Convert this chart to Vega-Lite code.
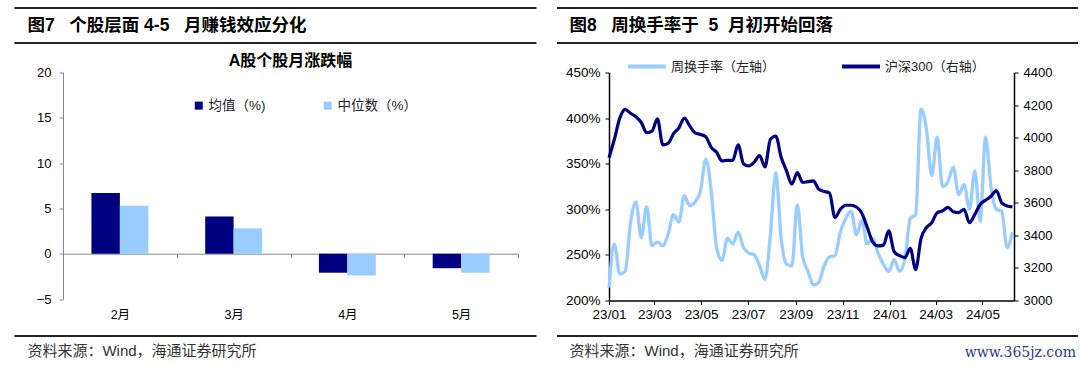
{
  "$schema": "https://vega.github.io/schema/vega-lite/v6.json",
  "background": "white",
  "padding": {"left": 13, "right": 0, "top": 7, "bottom": 0},
  "config": {
    "font": "Liberation Sans, Noto Sans CJK SC, sans-serif",
    "view": {"stroke": null},
    "axis": {"labelColor": "#000", "grid": false, "labelFont": "Liberation Sans, Noto Sans CJK SC, sans-serif"},
    "legend": {"labelColor": "#222", "labelFont": "Liberation Sans, Noto Sans CJK SC, sans-serif"}
  },
  "spacing": 1.5,
  "resolve": {"scale": {"color": "independent"}, "legend": {"color": "independent"}},
  "vconcat": [
    {
      "spacing": 18,
      "hconcat": [
        {
          "width": 473.4, "height": 35,
          "data": {"values": [{"t": "图7\u00a0\u00a0\u00a0个股层面 4-5\u00a0\u00a0\u00a0月赚钱效应分化", "p": -0.0752}]},
          "layer": [
            {"mark": {"type": "rule", "color": "#222", "strokeWidth": 2},
             "encoding": {"x": {"datum": -0.1027, "type": "quantitative", "scale": {"domain": [0, 1], "nice": false}, "axis": null}, "x2": {"datum": 1}, "y": {"datum": 1, "type": "quantitative", "scale": {"domain": [0, 1], "nice": false}, "axis": null}}},
            {"mark": {"type": "rule", "color": "#222", "strokeWidth": 2},
             "encoding": {"x": {"datum": -0.1027, "type": "quantitative", "axis": null}, "x2": {"datum": 1}, "y": {"datum": 0, "type": "quantitative", "axis": null}}},
            {"mark": {"type": "text", "align": "left", "baseline": "middle", "fontSize": 17.5, "fontWeight": "bold", "color": "#000"},
             "encoding": {"text": {"field": "t"}, "x": {"field": "p", "type": "quantitative", "axis": null}, "y": {"datum": 0.5, "type": "quantitative", "axis": null}}}
          ]
        },
        {
          "width": 521, "height": 35,
          "data": {"values": [{"t": "图8\u00a0\u00a0\u00a0周换手率于\u00a0\u00a05\u00a0\u00a0月初开始回落", "p": 0.024}]},
          "layer": [
            {"mark": {"type": "rule", "color": "#222", "strokeWidth": 2},
             "encoding": {"x": {"datum": 0, "type": "quantitative", "scale": {"domain": [0, 1], "nice": false}, "axis": null}, "x2": {"datum": 1}, "y": {"datum": 1, "type": "quantitative", "scale": {"domain": [0, 1], "nice": false}, "axis": null}}},
            {"mark": {"type": "rule", "color": "#222", "strokeWidth": 2},
             "encoding": {"x": {"datum": 0, "type": "quantitative", "axis": null}, "x2": {"datum": 1}, "y": {"datum": 0, "type": "quantitative", "axis": null}}},
            {"mark": {"type": "text", "align": "left", "baseline": "middle", "fontSize": 17.5, "fontWeight": "bold", "color": "#000"},
             "encoding": {"text": {"field": "t"}, "x": {"field": "p", "type": "quantitative", "axis": null}, "y": {"datum": 0.5, "type": "quantitative", "axis": null}}}
          ]
        }
      ]
    },
    {
      "spacing": 37,
      "resolve": {"scale": {"color": "independent"}, "legend": {"color": "independent"}},
      "hconcat": [
        {
          "width": 455, "height": 226.5,
          "title": {"text": "A股个股月涨跌幅", "fontSize": 16, "fontWeight": "bold", "offset": -2, "anchor": "middle", "color": "#000"},
          "data": {"values": [
            {"month": "2月", "series": "均值（%)", "value": 6.7},
            {"month": "2月", "series": "中位数（%）", "value": 5.3},
            {"month": "3月", "series": "均值（%)", "value": 4.1},
            {"month": "3月", "series": "中位数（%）", "value": 2.8},
            {"month": "4月", "series": "均值（%)", "value": -2.1},
            {"month": "4月", "series": "中位数（%）", "value": -2.4},
            {"month": "5月", "series": "均值（%)", "value": -1.6},
            {"month": "5月", "series": "中位数（%）", "value": -2.1}
          ]},
          "mark": {"type": "bar"},
          "encoding": {
            "x": {"field": "month", "type": "nominal", "sort": ["2月", "3月", "4月", "5月"],
                  "scale": {"paddingInner": 0, "paddingOuter": 0},
                  "axis": {"orient": "bottom", "offset": -45.3, "tickBand": "extent", "labelAngle": 0, "domainColor": "#888", "tickColor": "#888", "tickSize": 4, "labelPadding": 51, "labelFontSize": 12.5, "title": null, "minExtent": 79}},
            "xOffset": {"field": "series", "type": "nominal", "sort": ["均值（%)", "中位数（%）"], "scale": {"paddingInner": 0, "paddingOuter": 1.17}},
            "y": {"field": "value", "type": "quantitative", "stack": null,
                  "scale": {"domain": [-5, 20], "nice": false, "zero": false},
                  "axis": {"values": [-5, 0, 5, 10, 15, 20], "title": null, "domainColor": "#888", "tickColor": "#888", "tickSize": 4, "labelPadding": 8, "labelFontSize": 13, "minExtent": 48.6, "maxExtent": 48.6}},
            "color": {"field": "series", "type": "nominal",
                      "scale": {"domain": ["均值（%)", "中位数（%）"], "range": ["#000080", "#99CCFF"]},
                      "legend": {"title": null, "orient": "none", "legendX": 129, "legendY": 26, "direction": "horizontal", "symbolType": "square", "symbolSize": 64, "symbolStrokeWidth": 0, "labelFontSize": 13.5, "columnPadding": 55, "labelOffset": 3}}
          }
        },
        {
          "width": 405, "height": 228,
          "data": {"values": [
            {"date": "2023-01-06", "turnover": 214, "hs300": 3877},
            {"date": "2023-01-13", "turnover": 262, "hs300": 3990},
            {"date": "2023-01-20", "turnover": 229, "hs300": 4120},
            {"date": "2023-01-27", "turnover": 232, "hs300": 4174},
            {"date": "2023-02-03", "turnover": 285, "hs300": 4150},
            {"date": "2023-02-10", "turnover": 308, "hs300": 4128},
            {"date": "2023-02-17", "turnover": 269, "hs300": 4093},
            {"date": "2023-02-24", "turnover": 303, "hs300": 4030},
            {"date": "2023-03-03", "turnover": 260, "hs300": 4040},
            {"date": "2023-03-10", "turnover": 264, "hs300": 4115},
            {"date": "2023-03-17", "turnover": 260, "hs300": 3956},
            {"date": "2023-03-24", "turnover": 273, "hs300": 3965},
            {"date": "2023-03-31", "turnover": 294, "hs300": 4025},
            {"date": "2023-04-07", "turnover": 286, "hs300": 4060},
            {"date": "2023-04-14", "turnover": 315, "hs300": 4120},
            {"date": "2023-04-21", "turnover": 304, "hs300": 4072},
            {"date": "2023-04-28", "turnover": 308, "hs300": 4030},
            {"date": "2023-05-05", "turnover": 320, "hs300": 4020},
            {"date": "2023-05-12", "turnover": 355, "hs300": 4005},
            {"date": "2023-05-19", "turnover": 320, "hs300": 3940},
            {"date": "2023-05-26", "turnover": 258, "hs300": 3910},
            {"date": "2023-06-02", "turnover": 244, "hs300": 3857},
            {"date": "2023-06-09", "turnover": 268, "hs300": 3860},
            {"date": "2023-06-16", "turnover": 262, "hs300": 3860},
            {"date": "2023-06-23", "turnover": 275, "hs300": 3955},
            {"date": "2023-06-30", "turnover": 258, "hs300": 3840},
            {"date": "2023-07-07", "turnover": 252, "hs300": 3826},
            {"date": "2023-07-14", "turnover": 250, "hs300": 3850},
            {"date": "2023-07-21", "turnover": 238, "hs300": 3890},
            {"date": "2023-07-28", "turnover": 223, "hs300": 3820},
            {"date": "2023-08-04", "turnover": 272, "hs300": 3990},
            {"date": "2023-08-11", "turnover": 340, "hs300": 4010},
            {"date": "2023-08-18", "turnover": 268, "hs300": 3880},
            {"date": "2023-08-25", "turnover": 240, "hs300": 3796},
            {"date": "2023-09-01", "turnover": 238, "hs300": 3715},
            {"date": "2023-09-08", "turnover": 305, "hs300": 3785},
            {"date": "2023-09-15", "turnover": 248, "hs300": 3725},
            {"date": "2023-09-22", "turnover": 232, "hs300": 3730},
            {"date": "2023-09-29", "turnover": 217, "hs300": 3734},
            {"date": "2023-10-06", "turnover": 220, "hs300": 3683},
            {"date": "2023-10-13", "turnover": 238, "hs300": 3670},
            {"date": "2023-10-20", "turnover": 248, "hs300": 3660},
            {"date": "2023-10-27", "turnover": 249, "hs300": 3509},
            {"date": "2023-11-03", "turnover": 275, "hs300": 3560},
            {"date": "2023-11-10", "turnover": 290, "hs300": 3585},
            {"date": "2023-11-17", "turnover": 298, "hs300": 3585},
            {"date": "2023-11-24", "turnover": 272, "hs300": 3574},
            {"date": "2023-12-01", "turnover": 288, "hs300": 3535},
            {"date": "2023-12-08", "turnover": 262, "hs300": 3450},
            {"date": "2023-12-15", "turnover": 268, "hs300": 3360},
            {"date": "2023-12-22", "turnover": 252, "hs300": 3335},
            {"date": "2023-12-29", "turnover": 240, "hs300": 3340},
            {"date": "2024-01-05", "turnover": 232, "hs300": 3427},
            {"date": "2024-01-12", "turnover": 245, "hs300": 3300},
            {"date": "2024-01-19", "turnover": 232, "hs300": 3275},
            {"date": "2024-01-26", "turnover": 245, "hs300": 3263},
            {"date": "2024-02-02", "turnover": 290, "hs300": 3320},
            {"date": "2024-02-09", "turnover": 294, "hs300": 3190},
            {"date": "2024-02-16", "turnover": 410, "hs300": 3380},
            {"date": "2024-02-23", "turnover": 388, "hs300": 3447},
            {"date": "2024-03-01", "turnover": 337, "hs300": 3478},
            {"date": "2024-03-08", "turnover": 379, "hs300": 3539},
            {"date": "2024-03-15", "turnover": 325, "hs300": 3550},
            {"date": "2024-03-22", "turnover": 330, "hs300": 3572},
            {"date": "2024-03-29", "turnover": 346, "hs300": 3545},
            {"date": "2024-04-05", "turnover": 316, "hs300": 3540},
            {"date": "2024-04-12", "turnover": 327, "hs300": 3560},
            {"date": "2024-04-19", "turnover": 300, "hs300": 3478},
            {"date": "2024-04-26", "turnover": 342, "hs300": 3529},
            {"date": "2024-05-03", "turnover": 287, "hs300": 3590},
            {"date": "2024-05-10", "turnover": 379, "hs300": 3615},
            {"date": "2024-05-17", "turnover": 325, "hs300": 3640},
            {"date": "2024-05-24", "turnover": 300, "hs300": 3675},
            {"date": "2024-05-31", "turnover": 298, "hs300": 3600},
            {"date": "2024-06-07", "turnover": 258, "hs300": 3580},
            {"date": "2024-06-14", "turnover": 275, "hs300": 3575}
          ]},
          "encoding": {
            "x": {"field": "date", "type": "temporal",
                  "scale": {"domain": [{"year": 2023, "month": 1, "date": 6}, {"year": 2024, "month": 6, "date": 16}]},
                  "axis": {"values": [
                    {"year": 2023, "month": 1, "date": 6}, {"year": 2023, "month": 3, "date": 6}, {"year": 2023, "month": 5, "date": 6},
                    {"year": 2023, "month": 7, "date": 6}, {"year": 2023, "month": 9, "date": 6}, {"year": 2023, "month": 11, "date": 6},
                    {"year": 2024, "month": 1, "date": 6}, {"year": 2024, "month": 3, "date": 6}, {"year": 2024, "month": 5, "date": 6}],
                    "title": null, "format": "%y/%m", "labelFontSize": 13.5, "tickSize": 4, "domainColor": "#000", "tickColor": "#000", "domainWidth": 1.5, "labelPadding": 3, "labelAngle": 0, "labelOverlap": false, "labelFlush": false}}
          },
          "layer": [
            {
              "mark": {"type": "line", "interpolate": "monotone", "strokeWidth": 3.3},
              "encoding": {
                "y": {"field": "turnover", "type": "quantitative", "scale": {"domain": [200, 450], "nice": false, "zero": false},
                      "axis": {"title": null, "values": [200, 250, 300, 350, 400, 450], "labelExpr": "datum.value + '%'", "labelFontSize": 13.5, "tickSize": 4, "domainColor": "#000", "tickColor": "#000", "domainWidth": 1.5, "labelPadding": 5, "minExtent": 53, "maxExtent": 53}},
                "color": {"datum": "周换手率（左轴）", "type": "nominal",
                          "scale": {"domain": ["周换手率（左轴）", "沪深300（右轴）"], "range": ["#99CCFF", "#000080"]},
                          "legend": {"title": null, "orient": "none", "legendX": 17, "legendY": -27, "direction": "horizontal", "symbolType": "stroke", "symbolSize": 1444, "symbolStrokeWidth": 4, "labelFontSize": 13, "columnPadding": 58, "labelOffset": 3}}
              }
            },
            {
              "mark": {"type": "line", "interpolate": "monotone", "strokeWidth": 3.2},
              "encoding": {
                "y": {"field": "hs300", "type": "quantitative", "scale": {"domain": [3000, 4400], "nice": false, "zero": false},
                      "axis": {"title": null, "orient": "right", "values": [3000, 3200, 3400, 3600, 3800, 4000, 4200, 4400], "format": "d", "labelFontSize": 13, "tickSize": 4, "domainColor": "#000", "tickColor": "#000", "domainWidth": 1.5, "labelPadding": 5}},
                "color": {"datum": "沪深300（右轴）", "type": "nominal"}
              }
            }
          ],
          "resolve": {"scale": {"y": "independent"}}
        }
      ]
    },
    {
      "spacing": 18,
      "hconcat": [
        {
          "width": 473.4, "height": 30,
          "data": {"values": [{"t": "资料来源：Wind，海通证券研究所", "p": -0.0752}]},
          "layer": [
            {"mark": {"type": "rule", "color": "#222", "strokeWidth": 2},
             "encoding": {"x": {"datum": -0.1027, "type": "quantitative", "scale": {"domain": [0, 1], "nice": false}, "axis": null}, "x2": {"datum": 1}, "y": {"datum": 1, "type": "quantitative", "scale": {"domain": [0, 1], "nice": false}, "axis": null}}},
            {"mark": {"type": "text", "align": "left", "baseline": "middle", "fontSize": 15, "color": "#333"},
             "encoding": {"text": {"field": "t"}, "x": {"field": "p", "type": "quantitative", "axis": null}, "y": {"datum": 0.5, "type": "quantitative", "axis": null}}}
          ]
        },
        {
          "width": 521, "height": 30,
          "data": {"values": [{"t": "资料来源：Wind，海通证券研究所", "p": 0.024, "a": "src"}, {"t": "www.365jz.com", "p": 0.996, "a": "wm"}]},
          "layer": [
            {"mark": {"type": "rule", "color": "#222", "strokeWidth": 2},
             "encoding": {"x": {"datum": 0, "type": "quantitative", "scale": {"domain": [0, 1], "nice": false}, "axis": null}, "x2": {"datum": 1}, "y": {"datum": 1, "type": "quantitative", "scale": {"domain": [0, 1], "nice": false}, "axis": null}}},
            {"transform": [{"filter": "datum.a == 'src'"}],
             "mark": {"type": "text", "align": "left", "baseline": "middle", "fontSize": 15, "color": "#333"},
             "encoding": {"text": {"field": "t"}, "x": {"field": "p", "type": "quantitative", "axis": null}, "y": {"datum": 0.5, "type": "quantitative", "axis": null}}},
            {"transform": [{"filter": "datum.a == 'wm'"}],
             "mark": {"type": "text", "align": "right", "baseline": "middle", "fontSize": 14, "font": "DejaVu Serif", "color": "#1f3d8c"},
             "encoding": {"text": {"field": "t"}, "x": {"field": "p", "type": "quantitative", "axis": null}, "y": {"datum": 0.45, "type": "quantitative", "axis": null}}}
          ]
        }
      ]
    }
  ]
}
